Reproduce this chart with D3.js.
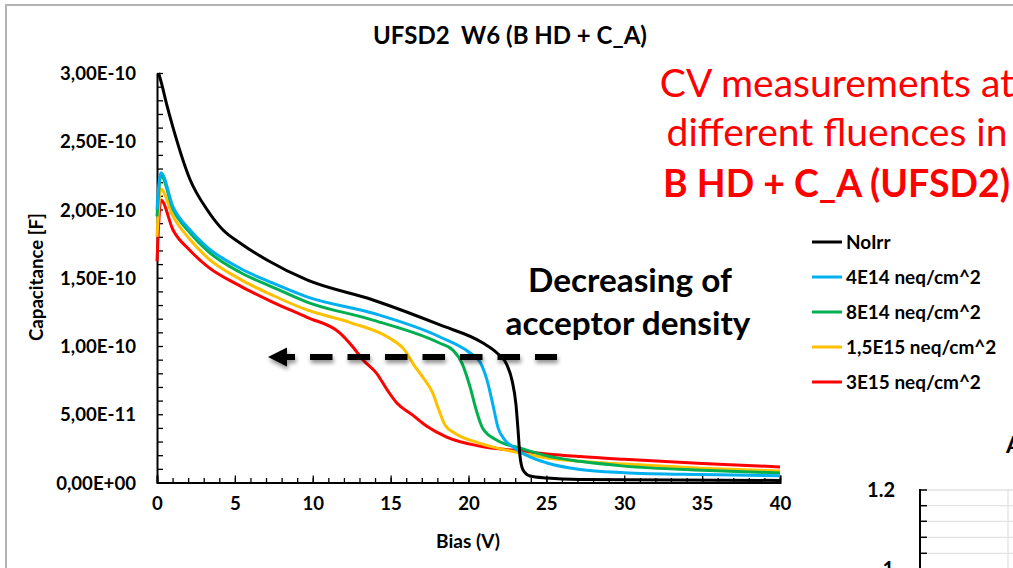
<!DOCTYPE html>
<html><head><meta charset="utf-8">
<script src="https://cdn.jsdelivr.net/npm/d3@7"></script>
<style>
body{margin:0;background:#fff}
svg{display:block}
text{font-family:Lato,"Open Sans",sans-serif}
</style>
</head><body>
<svg id="c" width="1013" height="568"></svg>
<script>
// ---------- data (capacitance values in units of 1e-10 F) ----------
const UNIT = 1e-10;
const seriesNames  = ["NoIrr", "4E14 neq/cm^2", "8E14 neq/cm^2", "1,5E15 neq/cm^2", "3E15 neq/cm^2"];
const seriesColors = ["#000000", "#00b0f0", "#00b050", "#ffc000", "#ff0000"];

const noIrrV = [0.1, 0.3, 0.6, 1.03, 2.12, 3.21, 4.24, 5.33, 7.06, 9.63, 13.87, 18.17, 20.93, 21.83, 22.47, 22.79, 23.05, 23.18, 23.3, 23.5, 23.95, 25.04, 27.16, 40];
const noIrrC = [3.0, 2.92, 2.78, 2.6, 2.22, 2.0, 1.85, 1.755, 1.63, 1.484, 1.337, 1.154, 1.022, 0.949, 0.861, 0.75, 0.568, 0.385, 0.2, 0.092, 0.048, 0.033, 0.022, 0.015];

const f4e14V = [0, 0.25, 1.03, 2.12, 3.21, 5.33, 7.45, 9.63, 13.87, 18.17, 20.1, 20.74, 21.19, 21.57, 21.9, 22.34, 22.86, 23.95, 25.04, 27.16, 30, 35, 40];
const f4e14C = [2.0, 2.27, 2.02, 1.85, 1.725, 1.57, 1.46, 1.36, 1.24, 1.066, 0.949, 0.883, 0.75, 0.568, 0.40, 0.311, 0.26, 0.187, 0.143, 0.095, 0.072, 0.058, 0.05];

const f8e14V = [0, 0.25, 1.03, 2.12, 3.21, 5.33, 7.45, 9.63, 13.87, 18.17, 19.0, 19.58, 20.1, 20.5, 20.9, 21.8, 23.3, 25.04, 27.16, 30, 35, 40];
const f8e14C = [1.95, 2.25, 2.0, 1.83, 1.70, 1.54, 1.43, 1.322, 1.19, 1.02, 0.97, 0.875, 0.70, 0.53, 0.40, 0.311, 0.253, 0.195, 0.155, 0.12, 0.09, 0.07];

const f15e15V = [0, 0.25, 1.03, 2.12, 3.21, 5.33, 7.45, 9.63, 12.46, 14.9, 15.9, 16.5, 17.1, 17.7, 18.1, 18.5, 19.1, 20.7, 23.3, 25.04, 27.16, 30, 35, 40];
const f15e15C = [1.8, 2.15, 1.95, 1.78, 1.65, 1.49, 1.37, 1.264, 1.17, 1.06, 0.97, 0.86, 0.766, 0.656, 0.53, 0.42, 0.363, 0.289, 0.216, 0.18, 0.155, 0.135, 0.105, 0.084];

const f3e15V = [0, 0.25, 1.03, 2.12, 3.21, 5.33, 7.45, 9.63, 11.75, 12.58, 13.23, 14.1, 14.78, 15.4, 16.4, 17.3, 18.6, 20.7, 23.3, 25.04, 27.16, 30, 35, 40];
const f3e15C = [1.62, 2.07, 1.85, 1.70, 1.585, 1.44, 1.32, 1.21, 1.095, 0.993, 0.897, 0.80, 0.678, 0.582, 0.495, 0.414, 0.333, 0.267, 0.231, 0.209, 0.19, 0.17, 0.14, 0.114];

const xTickValues = [0, 5, 10, 15, 20, 25, 30, 35, 40];
const yTickValues = [0, 0.5, 1.0, 1.5, 2.0, 2.5, 3.0];
const yTickLabels = ["0,00E+00", "5,00E-11", "1,00E-10", "1,50E-10", "2,00E-10", "2,50E-10", "3,00E-10"];

const chartTitle = "UFSD2  W6 (B HD + C_A)";
const xTitle = "Bias (V)";
const yTitle = "Capacitance [F]";
const redLines = ["CV measurements at", "different fluences in", "B HD + C_A (UFSD2)"];
const blackNote = ["Decreasing of", "acceptor density"];

const seriesV = [noIrrV, f4e14V, f8e14V, f15e15V, f3e15V];
const seriesC = [noIrrC, f4e14C, f8e14C, f15e15C, f3e15C];

// ---------- drawing ----------
const svg = d3.select("#c");
const x = d3.scaleLinear().domain([0, 40]).range([157, 780]);
const y = d3.scaleLinear().domain([0, 3 * UNIT]).range([482.5, 73]);

function fit(sel, w) {
  const m = sel.node().getComputedTextLength();
  const cur = parseFloat(sel.style("font-size"));
  const fs = cur * w / m;
  sel.style("font-size", fs + "px");
  return fs;
}

const defs = svg.append("defs");
const filt = defs.append("filter").attr("id", "sh").attr("x", "-10%").attr("y", "-100%").attr("width", "130%").attr("height", "400%");
filt.append("feDropShadow").attr("dx", 1).attr("dy", 3).attr("stdDeviation", 2).attr("flood-color", "#000").attr("flood-opacity", 0.45);

// slide frame
svg.append("path").attr("d", "M6,568 V5 H1013").attr("fill", "none").attr("stroke", "#b4b4b4").attr("stroke-width", 2);

// title
const tt = svg.append("text").attr("x", 510).attr("y", 44).attr("text-anchor", "middle")
  .attr("xml:space", "preserve").style("white-space", "pre")
  .style("font-weight", 700).style("font-size", "20px").text(chartTitle);
fit(tt, 274);

// y axis
const yMinor = d3.range(0, 31).map(i => i * 0.1 * UNIT);
svg.append("g").attr("transform", "translate(157,0)")
  .call(d3.axisLeft(y).tickValues(yMinor).tickSize(-6).tickFormat(""))
  .call(g => g.selectAll("line").attr("stroke", "#000").attr("stroke-width", 1.3))
  .call(g => g.select(".domain").remove());
const ya = svg.append("g").attr("transform", "translate(157,0)")
  .call(d3.axisLeft(y).tickValues(yTickValues.map(v => v * UNIT)).tickSize(0).tickPadding(21)
    .tickFormat((d, i) => yTickLabels[i]));
ya.select(".domain").attr("stroke", "#000").attr("stroke-width", 2);
ya.selectAll("text").style("font-family", "Lato, sans-serif").style("font-weight", 700).style("font-size", "17px").attr("fill", "#000");
const tickFs = fit(ya.selectAll("text").filter((d, i) => i === 6), 76);
ya.selectAll("text").style("font-size", tickFs + "px").attr("dy", "0.36em");

// x axis
const xa = svg.append("g").attr("transform", "translate(0,482.5)");
xa.call(d3.axisBottom(x).tickValues(d3.range(0, 41)).tickSize(-4.5).tickFormat(""))
  .call(g => g.selectAll("line").attr("stroke", "#000").attr("stroke-width", 1.3))
  .call(g => g.select(".domain").remove());
const xb = svg.append("g").attr("transform", "translate(0,482.5)")
  .call(d3.axisBottom(x).tickValues(xTickValues).tickSize(-7).tickPadding(14).tickFormat(d3.format("d")));
xb.select(".domain").attr("stroke", "#000").attr("stroke-width", 2);
xb.selectAll("line").attr("stroke", "#000").attr("stroke-width", 1.3);
xb.selectAll("text").style("font-family", "Lato, sans-serif").style("font-weight", 700).style("font-size", tickFs + "px").attr("fill", "#000");

// axis titles
const xt = svg.append("text").attr("x", 468).attr("y", 548).attr("text-anchor", "middle")
  .style("font-weight", 700).style("font-size", "15px").text(xTitle);
fit(xt, 64);
const yt = svg.append("text").attr("transform", "translate(43,277) rotate(-90)").attr("text-anchor", "middle")
  .style("font-weight", 700).style("font-size", "15px").text(yTitle);
fit(yt, 128);

// series lines
const line = d3.line().x(d => x(d[0])).y(d => y(d[1] * UNIT)).curve(d3.curveMonotoneX);
const order = [4, 3, 2, 1, 0];
order.forEach(k => {
  const pts = seriesV[k].map((v, i) => [v, seriesC[k][i]]);
  svg.append("path").attr("d", line(pts)).attr("fill", "none")
    .attr("stroke", seriesColors[k]).attr("stroke-width", 3).attr("stroke-linejoin", "round");
});

// legend
const lg = svg.append("g");
let legFs = 14;
seriesNames.forEach((n, i) => {
  const yy = 242 + i * 35;
  lg.append("line").attr("x1", 812).attr("x2", 842).attr("y1", yy).attr("y2", yy)
    .attr("stroke", seriesColors[i]).attr("stroke-width", 3);
  const t = lg.append("text").attr("x", 846).attr("y", yy).attr("dy", "0.36em")
    .style("font-weight", 700).style("font-size", "14px").text(n);
  if (i === 1) legFs = fit(t, 135);
});
lg.selectAll("text").style("font-size", legFs + "px");

// dashed arrow annotation
const arr = svg.append("g").attr("filter", "url(#sh)");
arr.append("path").attr("d", "M268,357 L287,347.5 L287,366.5 Z").attr("fill", "#000");
arr.append("line").attr("x1", 284).attr("x2", 295).attr("y1", 357).attr("y2", 357).attr("stroke", "#000").attr("stroke-width", 6);
arr.append("line").attr("x1", 310).attr("x2", 557).attr("y1", 357).attr("y2", 357)
  .attr("stroke", "#000").attr("stroke-width", 6).attr("stroke-dasharray", "22.5,15");

// black note
const bn1 = svg.append("text").attr("x", 630).attr("y", 292).attr("text-anchor", "middle")
  .style("font-weight", 700).style("font-size", "30px").text(blackNote[0]);
const bnFs = fit(bn1, 204);
svg.append("text").attr("x", 628).attr("y", 335).attr("text-anchor", "middle")
  .style("font-weight", 700).style("font-size", bnFs + "px").text(blackNote[1]);

// red note
const r2 = svg.append("text").attr("x", 837).attr("y", 146).attr("text-anchor", "middle")
  .attr("fill", "#ff0000").style("font-size", "34px").text(redLines[1]);
const rFs = fit(r2, 341);
svg.append("text").attr("x", 837).attr("y", 97).attr("text-anchor", "middle")
  .attr("fill", "#ff0000").style("font-size", rFs + "px").text(redLines[0]);
const r3 = svg.append("text").attr("x", 836.5).attr("y", 197).attr("text-anchor", "middle")
  .attr("fill", "#ff0000").style("font-weight", 700).style("font-size", "34px").text(redLines[2]);
fit(r3, 347);

// partial neighbouring chart (bottom-right), cut by the slide edge as in the reference
const pc = svg.append("g");
const gy = [490, 505.7, 521.3, 537.3, 553.3];
gy.forEach(v => {
  pc.append("line").attr("x1", 920).attr("x2", 1013).attr("y1", v).attr("y2", v).attr("stroke", "#e3e3e3").attr("stroke-width", 1.3);
  pc.append("line").attr("x1", 920).attr("x2", 927).attr("y1", v).attr("y2", v).attr("stroke", "#000").attr("stroke-width", 1.5);
});
pc.append("line").attr("x1", 1008).attr("x2", 1008).attr("y1", 490).attr("y2", 568).attr("stroke", "#e3e3e3").attr("stroke-width", 1.3);
pc.append("line").attr("x1", 920).attr("x2", 920).attr("y1", 489).attr("y2", 568).attr("stroke", "#000").attr("stroke-width", 2);
pc.append("text").attr("x", 895).attr("y", 497).attr("text-anchor", "end").style("font-weight", 700).style("font-size", "20px").text("1.2");
pc.append("text").attr("x", 894).attr("y", 576).attr("text-anchor", "end").style("font-weight", 700).style("font-size", "20px").text("1");
pc.append("text").attr("x", 1006).attr("y", 453).style("font-weight", 700).style("font-size", "23px").text("A");
</script>
</body></html>
